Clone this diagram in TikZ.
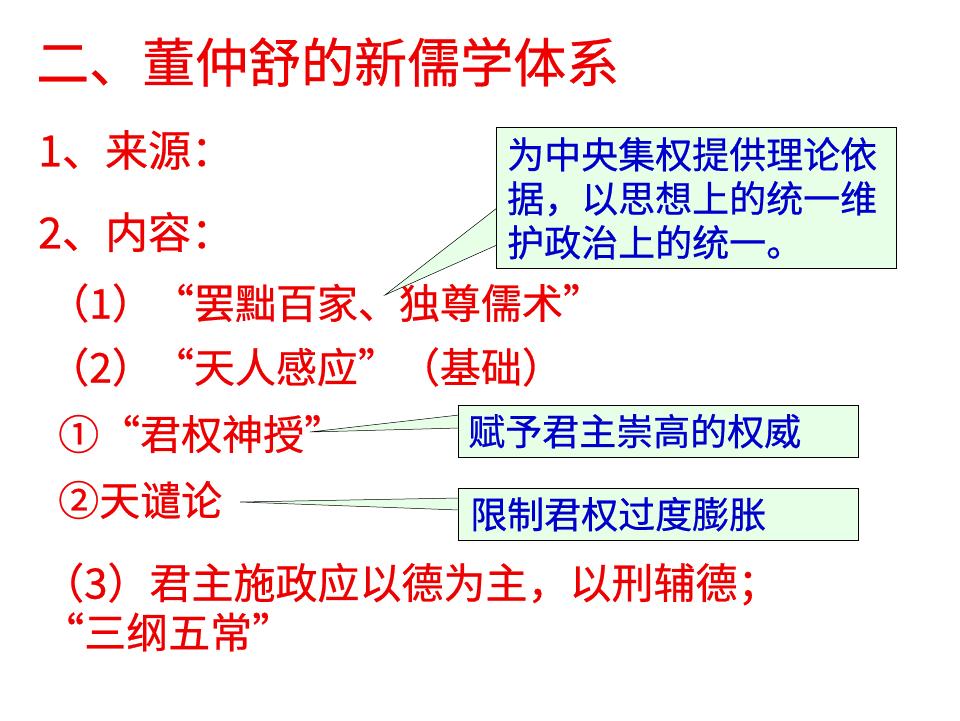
\documentclass[tikz,border=0pt]{standalone}
\usepackage{fontspec}
\setmainfont{Noto Sans CJK SC}[FakeBold=0.6]
\usetikzlibrary{positioning}
\definecolor{notered}{RGB}{238,0,0}
\definecolor{noteblue}{RGB}{0,0,204}
\definecolor{notegreen}{RGB}{230,255,230}
\tikzset{
  redtext/.style={anchor=west, inner sep=0pt, text=notered},
  notebox/.style={draw=black, fill=notegreen, text=noteblue, inner sep=0pt, anchor=north west},
  wedge/.style={draw=black, fill=notegreen, line width=0.5pt}
}
\begin{document}
\begin{tikzpicture}[x=1pt,y=-1pt]
		\useasboundingbox (0,0) rectangle (960,720);
		\fill[white] (0,0) rectangle (960,720);
		% headings
		\node[redtext, font=\fontsize{53}{58}\selectfont] (title) at (36, 62) {二、董仲舒的新儒学体系};
		\node[redtext, font=\fontsize{43}{48}\selectfont] (src) at (38, 150) {1、来源：};
		\node[redtext, font=\fontsize{43}{48}\selectfont] (cnt) at (38, 232) {2、内容：};
		% items
		\node[redtext, font=\fontsize{41}{46}\selectfont] (item1) at (48, 303) {（1）“罢黜百家、独尊儒术”};
		\node[redtext, font=\fontsize{41}{46}\selectfont] (item2) at (48, 367) {（2）“天人感应”（基础）};
		\node[redtext, font=\fontsize{41}{46}\selectfont] (sub1) at (58, 434) {①“君权神授”};
		\node[redtext, font=\fontsize{41}{46}\selectfont] (sub2) at (58, 500) {②天谴论};
		\node[redtext, font=\fontsize{42}{46}\selectfont] (item3) at (42, 584) {（3）君主施政应以德为主，以刑辅德；};
		\node[redtext, font=\fontsize{42}{46}\selectfont] (item3b) at (42, 632) {“三纲五常”};
		% callouts
		\coordinate (tipA) at (385, 295);
		\coordinate (tipB) at (310, 432);
		\coordinate (tipC) at (240, 502);
		\draw[wedge] (tipA) -- (497, 208) -- (497, 245) -- cycle;
		\draw[wedge] (tipB) -- (459, 415) -- (459, 428) -- cycle;
		\draw[wedge] (tipC) -- (459, 498) -- (459, 510) -- cycle;
		\node[notebox, minimum width=400pt, minimum height=141pt] (noteA) at (496, 127) {};
		\node[notebox, minimum width=400pt, minimum height=52pt] (noteB) at (458, 405) {};
		\node[notebox, minimum width=400pt, minimum height=52pt] (noteC) at (458, 488) {};
		\node[anchor=north west, text=noteblue, align=left, inner sep=0pt,
			font=\fontsize{37}{44}\selectfont] at ([xshift=11pt, yshift=-10pt]noteA.north west)
			{为中央集权提供理论依\\据，以思想上的统一维\\护政治上的统一。};
		\node[anchor=west, text=noteblue, inner sep=0pt, font=\fontsize{37}{44}\selectfont]
			at ([xshift=10pt]noteB.west) {赋予君主崇高的权威};
		\node[anchor=west, text=noteblue, inner sep=0pt, font=\fontsize{37}{44}\selectfont]
			at ([xshift=12pt]noteC.west) {限制君权过度膨胀};
	\end{tikzpicture}
\end{document}
